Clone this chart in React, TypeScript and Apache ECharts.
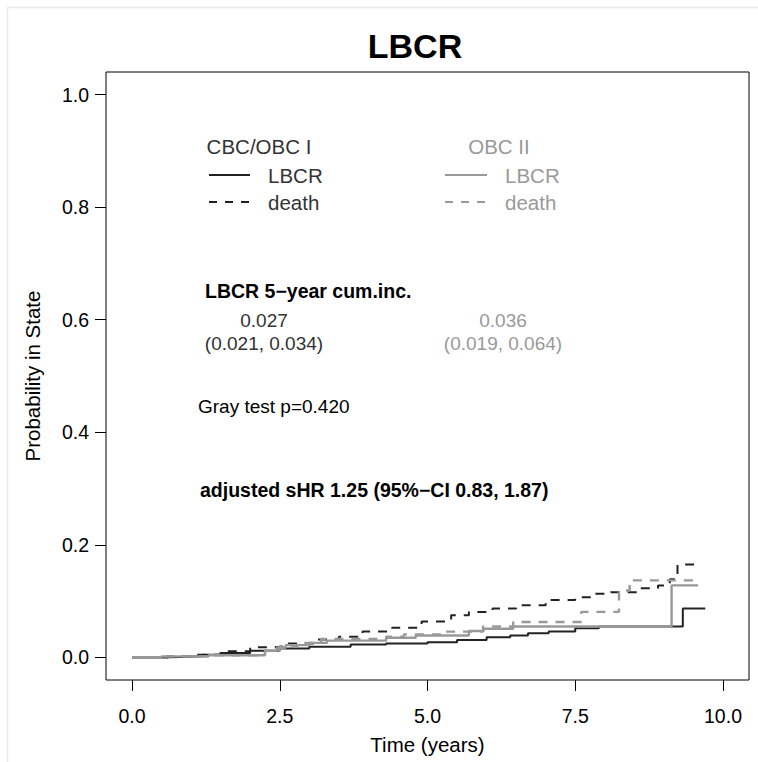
import React, { useEffect, useRef } from "react";
import * as echarts from "echarts";

// ---- data ----
const xTicks = [0, 2.5, 5, 7.5, 10];
const yTicks = [0, 0.2, 0.4, 0.6, 0.8, 1.0];

// CBC/OBC I – LBCR (solid black)
const tLbcrI = [0, 0.5, 0.8, 1.2, 1.5, 2.0, 2.5, 3.0, 3.7, 4.3, 5.0, 5.5, 6.0, 6.4, 6.7, 7.05, 7.5, 7.9, 9.32, 9.7];
const vLbcrI = [0, 0.001, 0.002, 0.005, 0.008, 0.012, 0.016, 0.019, 0.023, 0.025, 0.027, 0.031, 0.036, 0.039, 0.043, 0.046, 0.052, 0.055, 0.087, 0.087];

// CBC/OBC I – death (dashed black)
const tDeathI = [0, 0.6, 1.0, 1.5, 2.0, 2.55, 3.1, 3.5, 3.9, 4.4, 4.9, 5.4, 5.7, 6.1, 6.5, 7.0, 7.5, 7.8, 8.1, 8.6, 8.9, 9.1, 9.23, 9.55];
const vDeathI = [0, 0.002, 0.005, 0.011, 0.018, 0.025, 0.032, 0.037, 0.046, 0.053, 0.064, 0.075, 0.081, 0.087, 0.093, 0.102, 0.107, 0.113, 0.116, 0.123, 0.128, 0.139, 0.165, 0.165];

// OBC II – LBCR (solid gray)
const tLbcrII = [0, 0.5, 1.3, 2.25, 2.45, 2.6, 3.0, 3.3, 4.3, 4.8, 5.7, 5.95, 6.45, 9.13, 9.58];
const vLbcrII = [0, 0.002, 0.004, 0.012, 0.017, 0.022, 0.026, 0.030, 0.035, 0.039, 0.047, 0.051, 0.055, 0.128, 0.128];

// OBC II – death (dashed gray)
const tDeathII = [0, 0.5, 1.3, 2.25, 2.5, 2.8, 3.2, 4.3, 4.6, 5.3, 5.94, 6.45, 7.6, 8.24, 8.42, 9.5];
const vDeathII = [0, 0.002, 0.004, 0.012, 0.020, 0.026, 0.033, 0.037, 0.041, 0.046, 0.055, 0.063, 0.081, 0.119, 0.137, 0.137];

const FONT = '"Liberation Sans", Arial, Helvetica, sans-serif';
const DARK = "#222222";
const TXT_DARK = "#333333";
const GRAY = "#999999";

const pairs = (t: number[], v: number[]) => t.map((x, i) => [x, v[i]]);

export default function App() {
  const ref = useRef<HTMLDivElement>(null);

  useEffect(() => {
    if (!ref.current) return;
    const chart = echarts.init(ref.current, null, { renderer: "svg" });

    const txt = (text: string, x: number, y: number, opts: any = {}) => ({
      type: "text",
      x,
      y,
      style: {
        text,
        fill: opts.fill || "#000",
        fontSize: opts.size || 19,
        fontWeight: opts.bold ? "bold" : "normal",
        fontFamily: FONT,
        align: opts.align || "left",
        verticalAlign: "middle",
      },
    });
    const seg = (x1: number, x2: number, y: number, color: string, dashed: boolean) => ({
      type: "line",
      shape: { x1, y1: y, x2, y2: y },
      style: { stroke: color, lineWidth: 2.2, lineDash: dashed ? [8, 8] : null },
    });

    const lineSeries = (name: string, data: number[][], color: string, dashed: boolean, width: number) => ({
      name,
      type: "line",
      step: "end",
      data,
      showSymbol: false,
      symbol: "none",
      lineStyle: { color, width, type: dashed ? [9, 8] : "solid", cap: "butt" },
      emphasis: { disabled: true },
    });

    chart.setOption({
      animation: false,
      backgroundColor: "#fff",
      grid: {
        left: 106,
        right: 9,
        top: 72,
        bottom: 82,
        show: true,
        borderColor: "#000",
        borderWidth: 1,
        backgroundColor: "transparent",
      },
      xAxis: {
        type: "value",
        min: -0.44,
        max: 10.44,
        splitLine: { show: false },
        axisLine: { show: false, onZero: false },
        axisTick: { show: true, customValues: xTicks, length: 11, lineStyle: { color: "#000", width: 1 } },
        axisLabel: {
          customValues: xTicks,
          formatter: (v: number) => v.toFixed(1),
          margin: 26,
          fontSize: 19.5,
          color: "#000",
          fontFamily: FONT,
        },
        name: "Time (years)",
        nameLocation: "middle",
        nameGap: 54,
        nameTextStyle: { fontSize: 20.5, color: "#000", fontFamily: FONT },
      },
      yAxis: {
        type: "value",
        min: -0.04,
        max: 1.04,
        splitLine: { show: false },
        axisLine: { show: false, onZero: false },
        axisTick: { show: true, customValues: yTicks, length: 11, lineStyle: { color: "#000", width: 1 } },
        axisLabel: {
          customValues: yTicks,
          formatter: (v: number) => v.toFixed(1),
          margin: 17,
          fontSize: 19.5,
          color: "#000",
          fontFamily: FONT,
        },
        name: "Probability in State",
        nameLocation: "middle",
        nameGap: 63,
        nameTextStyle: { fontSize: 20.5, color: "#000", fontFamily: FONT },
      },
      series: [
        lineSeries("CBC/OBC I LBCR", pairs(tLbcrI, vLbcrI), DARK, false, 2),
        lineSeries("CBC/OBC I death", pairs(tDeathI, vDeathI), DARK, true, 2),
        lineSeries("OBC II LBCR", pairs(tLbcrII, vLbcrII), GRAY, false, 2.4),
        lineSeries("OBC II death", pairs(tDeathII, vDeathII), GRAY, true, 2.4),
      ],
      graphic: [
        {
          type: "rect",
          shape: { x: 7.5, y: 7.5, width: 800, height: 800 },
          style: { fill: "none", stroke: "#ececec", lineWidth: 1.5 },
          silent: true,
        },
        txt("LBCR", 415, 46, { bold: true, size: 34, align: "center" }),
        // legend CBC/OBC I
        txt("CBC/OBC I", 259, 146, { fill: TXT_DARK, align: "center", size: 20.5 }),
        seg(209, 250, 175, DARK, false),
        txt("LBCR", 268, 175, { fill: TXT_DARK, size: 20.5 }),
        seg(209, 250, 202, DARK, true),
        txt("death", 268, 202, { fill: TXT_DARK, size: 20.5 }),
        // legend OBC II
        txt("OBC II", 499, 146, { fill: GRAY, align: "center", size: 20.5 }),
        seg(445, 487, 175, GRAY, false),
        txt("LBCR", 505, 175, { fill: GRAY, size: 20.5 }),
        seg(445, 487, 202, GRAY, true),
        txt("death", 505, 202, { fill: GRAY, size: 20.5 }),
        // annotations
        txt("LBCR 5\u2212year cum.inc.", 205, 291, { bold: true, size: 19.5 }),
        txt("0.027", 264, 320, { fill: TXT_DARK, align: "center" }),
        txt("(0.021, 0.034)", 264, 343, { fill: TXT_DARK, align: "center" }),
        txt("0.036", 503, 320, { fill: GRAY, align: "center" }),
        txt("(0.019, 0.064)", 503, 343, { fill: GRAY, align: "center" }),
        txt("Gray test p=0.420", 198, 406, {}),
        txt("adjusted sHR 1.25 (95%\u2212CI 0.83, 1.87)", 200, 490, { bold: true, size: 19.5 }),
      ],
    });

    return () => chart.dispose();
  }, []);

  return (
    <div
      ref={ref}
      style={{ position: "absolute", left: 0, top: 0, width: 758, height: 762, background: "#fff" }}
    />
  );
}
